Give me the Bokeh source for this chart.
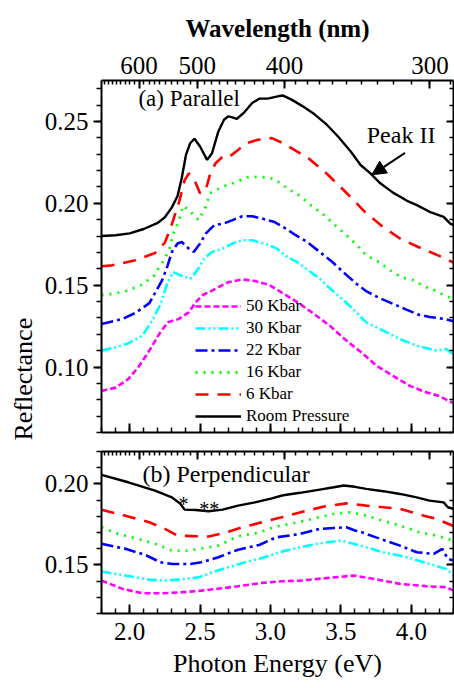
from bokeh.plotting import figure
from bokeh.layouts import column
from bokeh.models import (Range1d, LinearAxis, FixedTicker, SingleIntervalTicker,
                          CustomJSTickFormatter, Label, Title, Arrow, NormalHead)
from bokeh.embed import file_html
from bokeh.resources import INLINE

FONT = "'Liberation Serif', 'Times New Roman', Times, 'DejaVu Serif', serif"
EV_NM = 1239.84  # E[eV] * lambda[nm]

# ---------------- tick definitions ----------------
WL_MAJOR = [600, 500, 400, 300]
WL_MINOR = list(range(290, 700, 10))

# ---------------- (a) parallel polarisation ----------------
E_a_room = [1.80, 1.90, 2.00, 2.10, 2.20, 2.25, 2.30, 2.34, 2.37, 2.40, 2.43, 2.46, 2.50,
            2.55, 2.585, 2.63, 2.67, 2.70, 2.73, 2.76, 2.81, 2.87, 2.92, 2.98, 3.06, 3.09,
            3.15, 3.23, 3.30, 3.40, 3.48, 3.57, 3.64, 3.71, 3.78, 3.87, 3.97, 4.04, 4.13,
            4.23, 4.275, 4.30]
R_a_room = [0.1800, 0.1805, 0.1816, 0.1843, 0.1880, 0.1915, 0.1975, 0.2045, 0.2155, 0.2296,
            0.2367, 0.2394, 0.2347, 0.2265, 0.2306, 0.2439, 0.2510, 0.2531, 0.2525, 0.2515,
            0.2552, 0.2613, 0.2639, 0.2639, 0.2655, 0.2658, 0.2633, 0.2592, 0.2552, 0.2480,
            0.2408, 0.2316, 0.2234, 0.2183, 0.2122, 0.2065, 0.2015, 0.1989, 0.1948, 0.1917,
            0.1877, 0.1866]

E_a_6 = [1.80, 1.875, 2.04, 2.18, 2.25, 2.29, 2.35, 2.39, 2.42, 2.455, 2.50, 2.54, 2.57,
         2.61, 2.66, 2.70, 2.77, 2.83, 2.91, 3.01, 3.09, 3.27, 3.41, 3.55, 3.67, 3.80,
         3.92, 4.05, 4.19, 4.30]
R_a_6 = [0.1615, 0.1621, 0.1652, 0.1696, 0.1760, 0.1846, 0.2005, 0.2140, 0.2183, 0.2153,
         0.2061, 0.2081, 0.2173, 0.2245, 0.2285, 0.2279, 0.2326, 0.2367, 0.2388, 0.2398,
         0.2367, 0.2275, 0.2173, 0.2055, 0.1948, 0.1856, 0.1785, 0.1733, 0.1682, 0.1638]

E_a_16 = [1.80, 1.90, 1.98, 2.08, 2.17, 2.23, 2.28, 2.31, 2.35, 2.38, 2.43, 2.49, 2.54,
          2.57, 2.66, 2.75, 2.85, 2.94, 3.03, 3.12, 3.21, 3.29, 3.38, 3.46, 3.54, 3.61,
          3.68, 3.77, 3.85, 3.93, 4.02, 4.09, 4.17, 4.25, 4.30]
R_a_16 = [0.1440, 0.1450, 0.1465, 0.1500, 0.1555, 0.1635, 0.1713, 0.1815, 0.1897, 0.1985,
          0.1950, 0.1897, 0.1979, 0.2061, 0.2101, 0.2128, 0.2163, 0.2160, 0.2148, 0.2091,
          0.2045, 0.1986, 0.1928, 0.1866, 0.1805, 0.1748, 0.1682, 0.1641, 0.1590, 0.1549,
          0.1529, 0.1492, 0.1467, 0.1431, 0.1417]

E_a_22 = [1.80, 1.95, 2.04, 2.14, 2.17, 2.23, 2.27, 2.30, 2.34, 2.37, 2.42, 2.455, 2.50,
          2.54, 2.60, 2.67, 2.73, 2.80, 2.87, 2.94, 3.03, 3.10, 3.18, 3.26, 3.35, 3.44,
          3.53, 3.61, 3.68, 3.77, 3.87, 3.97, 4.05, 4.13, 4.23, 4.30]
R_a_22 = [0.1263, 0.1294, 0.1330, 0.1390, 0.1437, 0.1529, 0.1621, 0.1703, 0.1754, 0.1764,
          0.1723, 0.1703, 0.1754, 0.1815, 0.1866, 0.1877, 0.1897, 0.1921, 0.1921, 0.1907,
          0.1885, 0.1850, 0.1805, 0.1764, 0.1703, 0.1641, 0.1570, 0.1509, 0.1463, 0.1423,
          0.1386, 0.1349, 0.1320, 0.1306, 0.1294, 0.1280]

E_a_30 = [1.80, 1.90, 1.99, 2.09, 2.16, 2.22, 2.27, 2.31, 2.36, 2.43, 2.48, 2.53, 2.585,
          2.66, 2.73, 2.80, 2.87, 2.96, 3.04, 3.12, 3.19, 3.27, 3.35, 3.44, 3.51, 3.58,
          3.68, 3.80, 3.92, 4.04, 4.18, 4.25, 4.30]
R_a_30 = [0.1100, 0.1120, 0.1144, 0.1191, 0.1283, 0.1386, 0.1518, 0.1580, 0.1560, 0.1539,
          0.1590, 0.1662, 0.1703, 0.1723, 0.1754, 0.1774, 0.1774, 0.1754, 0.1726, 0.1672,
          0.1641, 0.1590, 0.1539, 0.1467, 0.1416, 0.1360, 0.1273, 0.1222, 0.1171, 0.1130,
          0.1100, 0.1110, 0.1075]

E_a_50 = [1.80, 1.90, 1.99, 2.06, 2.14, 2.21, 2.27, 2.35, 2.42, 2.47, 2.52, 2.585, 2.70,
          2.80, 2.89, 2.99, 3.09, 3.19, 3.31, 3.42, 3.54, 3.66, 3.755, 3.87, 3.99, 4.11,
          4.20, 4.30]
R_a_50 = [0.0854, 0.0874, 0.0926, 0.0997, 0.1100, 0.1202, 0.1273, 0.1294, 0.1334, 0.1396,
          0.1440, 0.1467, 0.1518, 0.1535, 0.1525, 0.1502, 0.1450, 0.1396, 0.1324, 0.1253,
          0.1161, 0.1079, 0.1007, 0.0946, 0.0885, 0.0844, 0.0823, 0.0778]

# ---------------- (b) perpendicular polarisation ----------------
E_b_room = [1.80, 1.99, 2.18, 2.30, 2.36, 2.39, 2.47, 2.56, 2.66, 2.77, 2.89, 3.01, 3.09,
            3.21, 3.35, 3.45, 3.52, 3.60, 3.68, 3.80, 3.92, 4.03, 4.13, 4.23, 4.26, 4.30]
R_b_room = [0.2056, 0.2010, 0.1959, 0.1917, 0.1877, 0.1841, 0.1839, 0.1831, 0.1841, 0.1866,
            0.1886, 0.1911, 0.1930, 0.1945, 0.1965, 0.1979, 0.1990, 0.1982, 0.1969, 0.1955,
            0.1938, 0.1918, 0.1897, 0.1886, 0.1856, 0.1846]

E_b_6 = [1.80, 1.97, 2.14, 2.25, 2.34, 2.47, 2.56, 2.67, 2.80, 2.94, 3.08, 3.26, 3.38,
         3.54, 3.68, 3.80, 3.92, 4.09, 4.18, 4.30]
R_b_6 = [0.1840, 0.1804, 0.1763, 0.1722, 0.1681, 0.1677, 0.1675, 0.1697, 0.1732, 0.1763,
         0.1794, 0.1835, 0.1860, 0.1880, 0.1866, 0.1856, 0.1846, 0.1804, 0.1784, 0.1740]

E_b_16 = [1.80, 1.92, 2.06, 2.18, 2.30, 2.42, 2.51, 2.63, 2.77, 2.92, 3.03, 3.21, 3.35,
          3.45, 3.57, 3.68, 3.80, 3.92, 4.06, 4.18, 4.30]
R_b_16 = [0.1732, 0.1691, 0.1660, 0.1630, 0.1588, 0.1588, 0.1602, 0.1619, 0.1677, 0.1700,
          0.1735, 0.1765, 0.1795, 0.1815, 0.1825, 0.1804, 0.1773, 0.1743, 0.1701, 0.1681,
          0.1650]

E_b_22 = [1.80, 1.97, 2.11, 2.22, 2.30, 2.43, 2.51, 2.63, 2.77, 2.92, 3.04, 3.21, 3.35,
          3.45, 3.54, 3.60, 3.63, 3.75, 3.92, 4.04, 4.16, 4.22, 4.26, 4.30]
R_b_22 = [0.1630, 0.1599, 0.1562, 0.1516, 0.1506, 0.1506, 0.1516, 0.1547, 0.1594, 0.1623,
          0.1670, 0.1691, 0.1722, 0.1728, 0.1732, 0.1712, 0.1707, 0.1670, 0.1619, 0.1578,
          0.1568, 0.1599, 0.1537, 0.1527]

E_b_30 = [1.80, 1.97, 2.14, 2.25, 2.40, 2.49, 2.585, 2.70, 2.82, 2.96, 3.08, 3.21, 3.35,
          3.50, 3.64, 3.80, 3.97, 4.13, 4.25, 4.30]
R_b_30 = [0.1459, 0.1434, 0.1409, 0.1403, 0.1414, 0.1423, 0.1454, 0.1485, 0.1516, 0.1547,
          0.1582, 0.1609, 0.1633, 0.1650, 0.1619, 0.1578, 0.1547, 0.1506, 0.1475, 0.1434]

E_b_50 = [1.80, 1.95, 2.09, 2.23, 2.37, 2.51, 2.66, 2.80, 2.94, 3.08, 3.21, 3.45, 3.59,
          3.73, 3.92, 4.11, 4.25, 4.30]
R_b_50 = [0.1403, 0.1352, 0.1325, 0.1325, 0.1331, 0.1341, 0.1356, 0.1372, 0.1389, 0.1399,
          0.1403, 0.1423, 0.1434, 0.1414, 0.1383, 0.1368, 0.1362, 0.1341]

# legend text, colour and dash for each pressure (drawn bottom-up so legend reads top-down)
LABELS = ["50 Kbar", "30 Kbar", "22 Kbar", "16 Kbar", "6 Kbar", "Room Pressure"]
COLORS = ["#ff00ff", "#00ffff", "#0000ff", "#00ff00", "#ff0000", "#000000"]
DASHES = ["6 3", "10 3 2 3 2 3", "12 4 3 4", "2 6", "13 9", "solid"]
WIDTHS = [2.6, 2.6, 2.6, 2.8, 2.6, 2.4]

SERIES_A = [(E_a_50, R_a_50), (E_a_30, R_a_30), (E_a_22, R_a_22),
            (E_a_16, R_a_16), (E_a_6, R_a_6), (E_a_room, R_a_room)]
SERIES_B = [(E_b_50, R_b_50), (E_b_30, R_b_30), (E_b_22, R_b_22),
            (E_b_16, R_b_16), (E_b_6, R_b_6), (E_b_room, R_b_room)]

TICK_PX = "25px"

x_range = Range1d(1.8, 4.3)


def fixed(digits):
    return CustomJSTickFormatter(code="return tick.toFixed(%d)" % digits)


def energy_ticker():
    return SingleIntervalTicker(interval=0.5, num_minor_ticks=5)


def refl_ticker():
    return SingleIntervalTicker(interval=0.05, num_minor_ticks=5)


def wl_ticker():
    return FixedTicker(ticks=[EV_NM / w for w in WL_MAJOR],
                       minor_ticks=[EV_NM / w for w in WL_MINOR])


def base_axis(ax, inward, major=8, minor=4):
    ax.axis_line_width = 2
    ax.axis_line_color = "black"
    ax.major_tick_line_width = 2
    ax.minor_tick_line_width = 1.5
    ax.major_tick_line_color = "black"
    ax.minor_tick_line_color = "black"
    if inward:
        ax.major_tick_in, ax.major_tick_out = major, 0
        ax.minor_tick_in, ax.minor_tick_out = minor, 0
    else:
        ax.major_tick_in, ax.major_tick_out = 0, major
        ax.minor_tick_in, ax.minor_tick_out = 0, minor
    ax.major_label_text_font = FONT
    ax.major_label_text_font_size = TICK_PX
    ax.major_label_text_color = "black"
    ax.axis_label_text_font = FONT
    ax.axis_label_text_font_style = "normal"
    ax.axis_label_text_color = "black"


def hide_labels(ax):
    # tick marks only: nothing is written next to this axis
    ax.major_label_text_color = None
    ax.major_label_standoff = 0


def text_label(x, y, text, size, align="left", baseline="middle"):
    return Label(x=x, y=y, text=text, text_font=FONT, text_font_size=size,
                 text_color="black", text_align=align, text_baseline=baseline)


def make_panel(y_lo, y_hi, height, top, bottom):
    p = figure(width=454, height=height, x_range=x_range, y_range=Range1d(y_lo, y_hi),
               output_backend="svg", toolbar_location=None,
               min_border_left=101, min_border_right=1,
               min_border_top=top, min_border_bottom=bottom,
               outline_line_color=None)
    p.xgrid.grid_line_color = None
    p.ygrid.grid_line_color = None

    # left reflectance axis, ticks pointing out
    ly = p.yaxis[0]
    ly.ticker = refl_ticker()
    ly.formatter = fixed(2)
    base_axis(ly, inward=False, major=8, minor=5)
    ly.major_label_standoff = 5

    # mirrored right axis, ticks pointing in
    ry = LinearAxis(ticker=refl_ticker())
    base_axis(ry, inward=True, major=7, minor=4)
    hide_labels(ry)
    p.add_layout(ry, "right")

    # energy axis below
    bx = p.xaxis[0]
    bx.ticker = energy_ticker()
    bx.formatter = fixed(1)
    base_axis(bx, inward=True, major=9, minor=5)
    return p


# ---------------- panel (a) ----------------
pa = make_panel(0.06, 0.275, 441, 80, 9)
hide_labels(pa.xaxis[0])

top_a = LinearAxis(ticker=wl_ticker(),
                   formatter=CustomJSTickFormatter(code="return (%r / tick).toFixed(0)" % EV_NM),
                   axis_label="Wavelength (nm)")
base_axis(top_a, inward=True, major=8, minor=4)
top_a.major_label_standoff = 7
top_a.axis_label_standoff = 12
top_a.axis_label_text_font_style = "bold"
top_a.axis_label_text_font_size = "25px"
pa.add_layout(top_a, "above")

for (e, r), lab, col, dash, lw in zip(SERIES_A, LABELS, COLORS, DASHES, WIDTHS):
    pa.line(e, r, line_color=col, line_dash=dash, line_width=lw, legend_label=lab)

lg = pa.legend[0]
lg.location = (94, 6)
lg.background_fill_alpha = 0
lg.border_line_color = None
lg.label_text_font = FONT
lg.label_text_font_size = "17px"
lg.label_text_color = "black"
lg.glyph_width = 46
lg.glyph_height = 20
lg.label_height = 20
lg.label_standoff = 5
lg.spacing = 2
lg.padding = 0
lg.margin = 0

pa.add_layout(text_label(2.062, 0.264, "(a) Parallel", "23px"))
pa.add_layout(text_label(3.684, 0.2420, "Peak II", "24px"))
pa.add_layout(Arrow(x_start=3.956, y_start=0.2308, x_end=3.72, y_end=0.2174,
                    line_width=2, line_color="black",
                    end=NormalHead(size=14, fill_color="black", line_color="black")))

# shared y-axis title, set to the left of panel (a) and reaching down toward (b)
pa.add_layout(Title(text="Reflectance", align="left", offset=-8, text_font=FONT,
                    text_font_size="26px", text_font_style="normal",
                    text_color="black", standoff=7), "left")

# ---------------- panel (b) ----------------
pb = make_panel(0.12, 0.22, 247, 10, 75)
bxb = pb.xaxis[0]
bxb.major_label_standoff = 9
bxb.axis_label = "Photon Energy (eV)"
bxb.axis_label_text_font_size = "26px"
bxb.axis_label_standoff = 6

top_b = LinearAxis(ticker=wl_ticker())
base_axis(top_b, inward=True, major=8, minor=4)
hide_labels(top_b)
pb.add_layout(top_b, "above")

for (e, r), col, dash, lw in zip(SERIES_B, COLORS, DASHES, WIDTHS):
    pb.line(e, r, line_color=col, line_dash=dash, line_width=lw)

pb.add_layout(text_label(2.091, 0.2064, "(b) Perpendicular", "24px"))
pb.add_layout(text_label(2.382, 0.1873, "*", "20px", align="center", baseline="alphabetic"))
pb.add_layout(text_label(2.566, 0.1848, "**", "20px", align="center", baseline="alphabetic"))

layout = column(pa, pb)

with open("out.html", "w") as f:
    f.write(file_html(layout, INLINE))
